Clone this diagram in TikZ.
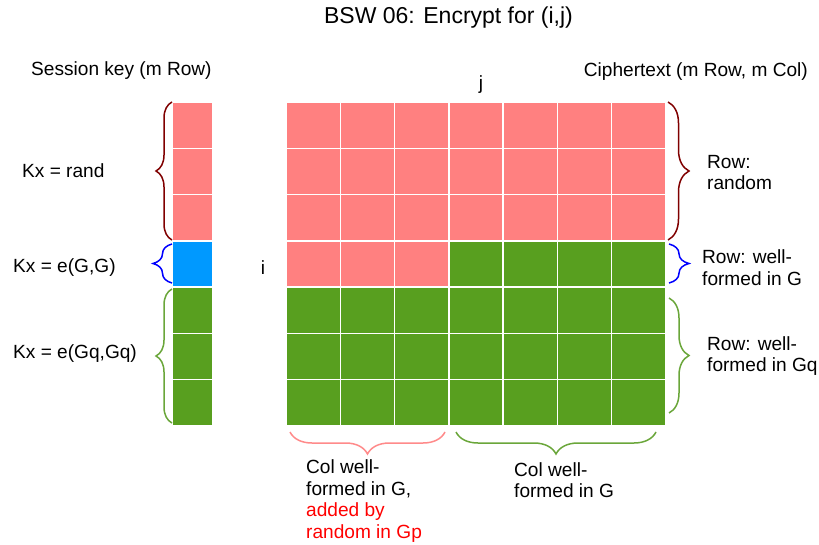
\documentclass[tikz,border=0pt]{standalone}
\usepackage{fontspec}
\setmainfont{Liberation Sans}
\usetikzlibrary{decorations.pathreplacing}
\definecolor{cpink}{HTML}{FF8080}
\definecolor{cgreen}{HTML}{589F1F}
\definecolor{cblue}{HTML}{0099FF}
\definecolor{bred}{HTML}{800000}
\definecolor{bblue}{HTML}{0000FF}
\definecolor{bgreen}{HTML}{6AA63A}
\definecolor{bpink}{HTML}{FF8A8A}
\begin{document}
\begin{tikzpicture}[x=1pt,y=-1pt,
  cell/.style={draw=white, line width=1.5pt, minimum width=54.29pt, minimum height=46.29pt, inner sep=0pt, outer sep=0pt, anchor=north west},
  kcell/.style={cell, minimum width=41pt},
  lbl/.style={font=\fontsize{19.1}{21.5}\selectfont, inner sep=0pt, align=left},
  brc/.style={decorate, decoration={brace, amplitude=#1}, line width=1.5pt}]
\useasboundingbox[fill=white] (0,0) rectangle (819,545);

% title and headings
\node[font=\fontsize{23}{26}\selectfont, inner sep=0pt, anchor=base] (title) at (448.5,24) {BSW 06: Encrypt for (i,j)};
\node[lbl, anchor=base west] (skey) at (31,76) {Session key (m Row)};
\node[lbl, anchor=base east] (ctext) at (808,77) {Ciphertext (m Row, m Col)};
\node[lbl] (jlbl) at (481,85) {j};
\node[lbl] (ilbl) at (263,268) {i};

% session key column
\foreach \r in {0,1,2} \node[kcell, fill=cpink] (k\r) at (172,{102+\r*46.2857}) {};
\node[kcell, fill=cblue] (k3) at (172,{102+3*46.2857}) {};
\foreach \r in {4,5,6} \node[kcell, fill=cgreen] (k\r) at (172,{102+\r*46.2857}) {};

% ciphertext matrix
\foreach \r in {0,1,2} \foreach \c in {0,...,6}
  \node[cell, fill=cpink] (m\r\c) at ({286+\c*54.2857},{102+\r*46.2857}) {};
\foreach \c in {0,1,2}
  \node[cell, fill=cpink] (m3\c) at ({286+\c*54.2857},{102+3*46.2857}) {};
\foreach \c in {3,...,6}
  \node[cell, fill=cgreen] (m3\c) at ({286+\c*54.2857},{102+3*46.2857}) {};
\foreach \r in {4,5,6} \foreach \c in {0,...,6}
  \node[cell, fill=cgreen] (m\r\c) at ({286+\c*54.2857},{102+\r*46.2857}) {};

% brace end points
\coordinate (lb1a) at (172,240); \coordinate (lb1b) at (172,102);
\coordinate (lb2a) at (172,283); \coordinate (lb2b) at (172,244);
\coordinate (lb3a) at (172,423); \coordinate (lb3b) at (172,289);
\coordinate (rb1a) at (668,102); \coordinate (rb1b) at (668,240);
\coordinate (rb2a) at (669,244); \coordinate (rb2b) at (669,283);
\coordinate (rb3a) at (669,298); \coordinate (rb3b) at (669,413);
\coordinate (bb1a) at (445,432); \coordinate (bb1b) at (290,432);
\coordinate (bb2a) at (656,432); \coordinate (bb2b) at (456,432);

% braces
\draw[brc=16pt, bred] (lb1a) -- (lb1b);
\draw[brc=19pt, bblue] (lb2a) -- (lb2b);
\draw[brc=16pt, bgreen] (lb3a) -- (lb3b);
\draw[brc=21pt, bred] (rb1a) -- (rb1b);
\draw[brc=20pt, bblue] (rb2a) -- (rb2b);
\draw[brc=20pt, bgreen] (rb3a) -- (rb3b);
\draw[brc=22pt, bpink] (bb1a) -- (bb1b);
\draw[brc=22pt, bgreen] (bb2a) -- (bb2b);

% key labels
\node[lbl, anchor=west] (kx1) at (22,171) {Kx = rand};
\node[lbl, anchor=west] (kx2) at (13,268) {Kx = e(G,G)};
\node[lbl, anchor=west] (kx3) at (13,354) {Kx = e(Gq,Gq)};

% row labels
\node[lbl, anchor=west] (row1) at (707,172.5) {Row:\\random};
\node[lbl, anchor=west] (row2) at (702,267.5) {Row: well-\\formed in G};
\node[lbl, anchor=west] (row3) at (707,356) {Row: well-\\formed in Gq};

% column labels
\node[lbl, anchor=west] (col1) at (306,501) {Col well-\\formed in G,\\\textcolor{red}{added by}\\\textcolor{red}{random in Gp}};
\node[lbl, anchor=west] (col2) at (514,480) {Col well-\\formed in G};
\end{tikzpicture}
\end{document}
